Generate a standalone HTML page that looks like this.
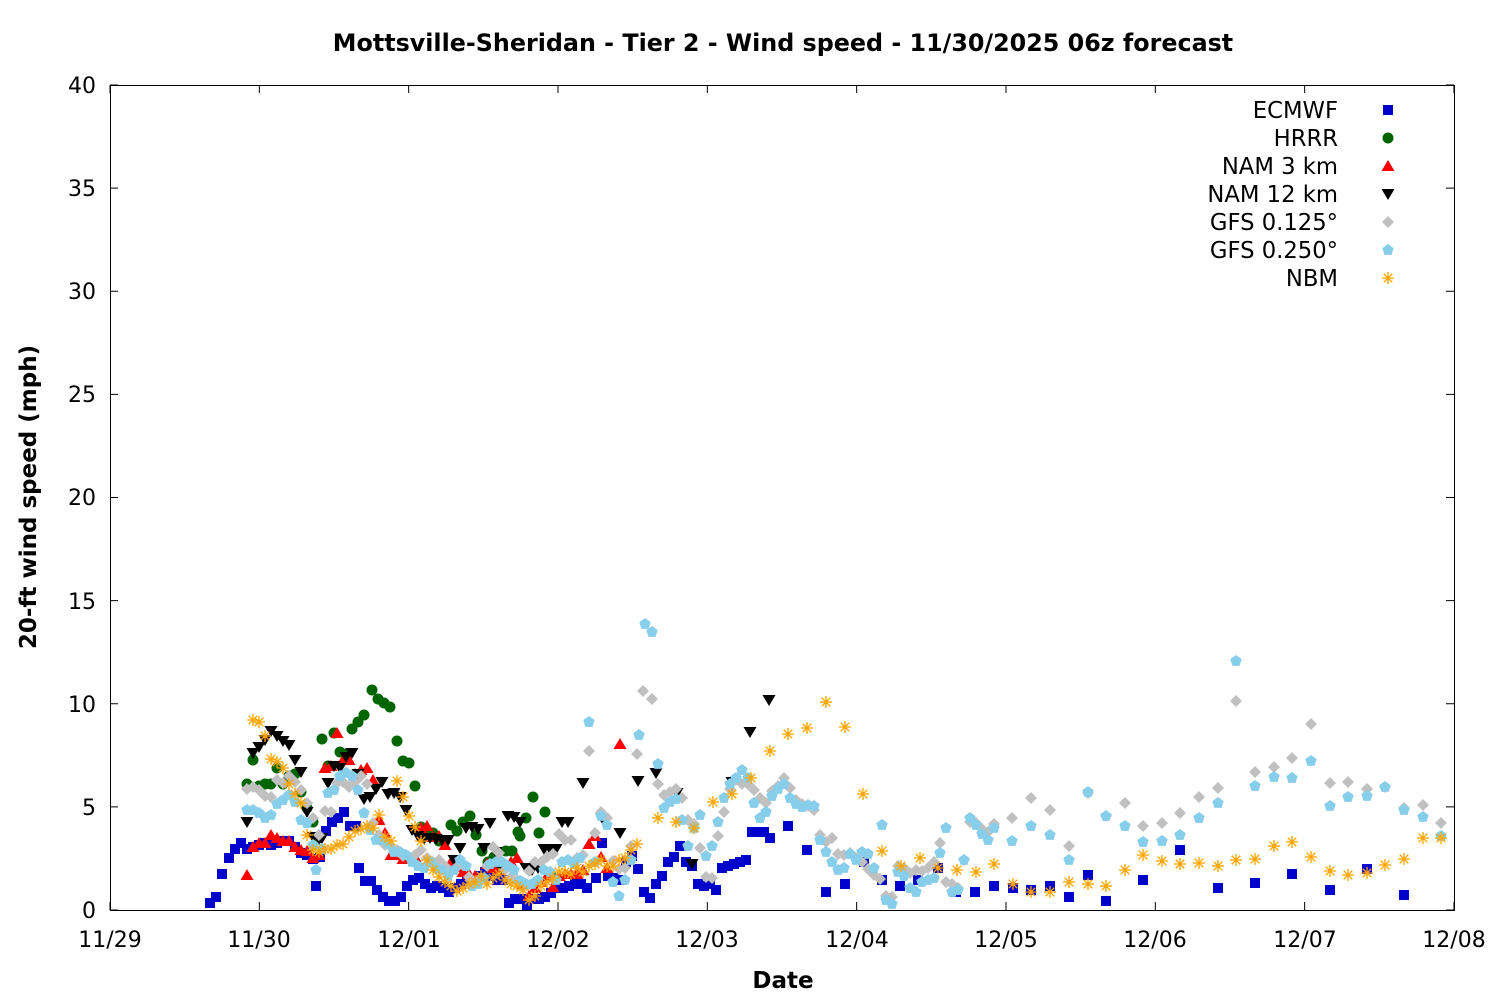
<!DOCTYPE html>
<html><head><meta charset="utf-8"><style>
body{margin:0;background:#fff;}
svg{display:block;font-family:"DejaVu Sans","Liberation Sans",sans-serif;}
</style></head><body>
<svg id="s" width="1500" height="1000" viewBox="0 0 1500 1000" xmlns="http://www.w3.org/2000/svg">
<rect width="1500" height="1000" fill="#fff"/>
<text x="783" y="51" text-anchor="middle" font-size="23.8" font-weight="bold">Mottsville-Sheridan - Tier 2 - Wind speed - 11/30/2025 06z forecast</text>
<rect x="110.5" y="85.5" width="1344" height="825" fill="none" stroke="#000" stroke-width="1"/>
<g id="ticks" stroke="#000" stroke-width="1"></g>
<g font-size="22" text-anchor="end">
<text x="96" y="918">0</text><text x="96" y="815">5</text><text x="96" y="712">10</text><text x="96" y="609">15</text><text x="96" y="505">20</text><text x="96" y="402">25</text><text x="96" y="299">30</text><text x="96" y="196">35</text><text x="96" y="93">40</text>
</g>
<g font-size="22" text-anchor="middle">
<text x="110" y="947">11/29</text><text x="259" y="947">11/30</text><text x="409" y="947">12/01</text><text x="558" y="947">12/02</text><text x="707" y="947">12/03</text><text x="857" y="947">12/04</text><text x="1006" y="947">12/05</text><text x="1155" y="947">12/06</text><text x="1305" y="947">12/07</text><text x="1454" y="947">12/08</text>
</g>
<text x="783" y="988" text-anchor="middle" font-size="23" font-weight="bold">Date</text>
<text transform="translate(36,497) rotate(-90)" text-anchor="middle" font-size="23" font-weight="bold">20-ft wind speed (mph)</text>
<g font-size="22.7" text-anchor="end">
<text x="1338" y="118">ECMWF</text><text x="1338" y="146">HRRR</text><text x="1338" y="174">NAM 3 km</text><text x="1338" y="202">NAM 12 km</text><text x="1338" y="230">GFS 0.125°</text><text x="1338" y="258">GFS 0.250°</text><text x="1338" y="286">NBM</text>
</g>
<g id="pts"></g>
</svg>
<script>
var NS="http://www.w3.org/2000/svg";
var t=document.getElementById('ticks'),g=document.getElementById('pts');
function el(n,a,p){var e=document.createElementNS(NS,n);for(var k in a)e.setAttribute(k,a[k]);(p||g).appendChild(e);return e;}
for(var i=0;i<=8;i++){var y=910-i*103.125;el('line',{x1:110,y1:y,x2:118,y2:y},t);el('line',{x1:1454,y1:y,x2:1446,y2:y},t);}
for(var i=0;i<=9;i++){var x=110+i*149.33;el('line',{x1:x,y1:910,x2:x,y2:902},t);el('line',{x1:x,y1:85,x2:x,y2:93},t);}
function mk(type,x,y){
 if(type==0)el('rect',{x:x-5,y:y-5,width:10,height:10,fill:'#0000cc'});
 else if(type==1)el('circle',{cx:x,cy:y,r:5.5,fill:'#006400'});
 else if(type==2)el('polygon',{points:(x)+','+(y-6)+' '+(x+6.5)+','+(y+5)+' '+(x-6.5)+','+(y+5),fill:'#ff0000'});
 else if(type==3)el('polygon',{points:(x)+','+(y+6)+' '+(x+6.5)+','+(y-5)+' '+(x-6.5)+','+(y-5),fill:'#000'});
 else if(type==4)el('polygon',{points:x+','+(y-6)+' '+(x+6)+','+y+' '+x+','+(y+6)+' '+(x-6)+','+y,fill:'#c0c0c0'});
 else if(type==5){var p=[];for(var k=0;k<5;k++){var a=-Math.PI/2+k*2*Math.PI/5;p.push((x+6*Math.cos(a))+','+(y+6*Math.sin(a)));}el('polygon',{points:p.join(' '),fill:'#87ceeb'});}
 else {var d='';for(var k=0;k<4;k++){var a=k*Math.PI/4;d+='M'+(x-6*Math.cos(a))+' '+(y-6*Math.sin(a))+'L'+(x+6*Math.cos(a))+' '+(y+6*Math.sin(a));}el('path',{d:d,stroke:'#ffa500','stroke-width':1.3,fill:'none'});}
}
var D=[
[210,903,216,897,222,874,229,858,235,849,241,843,247,849,253,847,259,845,265,843,271,845,277,843,283,841,289,841,295,847,301,853,307,855,313,859,316,886,320,857,326,831,332,822,338,818,344,812,350,826,356,826,359,868,365,881,371,881,377,890,383,897,389,901,395,901,401,897,407,886,413,880,419,878,425,884,431,888,437,886,443,888,449,892,455,888,461,884,467,880,473,880,479,876,485,872,491,876,497,880,503,880,509,903,515,899,521,899,527,905,533,899,539,899,545,897,551,893,557,888,563,888,569,886,575,884,581,884,587,888,596,878,602,843,608,876,614,878,620,880,626,862,632,856,638,869,644,892,650,898,656,884,662,876,668,862,674,857,680,846,686,862,692,866,698,884,704,886,710,884,716,890,722,868,728,866,734,864,740,862,746,860,752,832,758,832,764,832,770,838,788,826,807,850,826,892,845,884,864,862,882,880,900,886,918,880,938,868,956,892,975,892,994,886,1013,888,1031,890,1050,886,1069,897,1088,875,1106,901,1143,880,1180,850,1218,888,1255,883,1292,874,1330,890,1367,869,1404,895],
[247,784,253,760,259,786,265,784,271,784,277,768,283,784,289,776,295,774,301,792,307,808,313,822,319,838,322,739,328,766,334,733,340,752,346,754,352,729,358,722,364,715,372,690,378,699,384,703,390,707,397,741,403,761,409,763,415,786,421,827,427,833,433,833,439,841,445,841,451,825,457,831,463,822,470,816,476,835,482,851,488,862,494,857,500,864,506,851,512,851,518,832,520,836,526,818,533,797,539,833,545,812,551,876],
[247,875,253,847,259,843,265,843,271,835,277,838,283,841,289,841,295,847,301,850,307,851,313,858,319,855,325,768,331,766,337,733,343,760,349,760,355,774,361,770,367,768,373,780,379,820,385,833,391,855,397,855,403,859,409,859,415,857,421,828,427,826,433,837,439,836,445,845,451,862,457,867,463,872,469,874,475,876,481,878,487,864,493,868,499,870,505,866,511,862,517,858,523,884,529,896,535,888,541,882,547,876,553,887,559,876,565,874,571,874,577,874,583,870,589,844,595,836,601,857,607,868,620,744],
[247,822,253,753,259,747,265,740,271,731,277,736,283,741,289,745,295,760,301,772,307,812,313,837,319,839,322,838,328,783,334,766,340,768,346,757,352,753,358,774,364,799,370,797,376,789,382,782,388,794,394,793,400,797,406,810,412,830,418,836,424,839,430,838,436,839,442,840,448,840,454,860,460,848,466,828,472,827,478,829,484,848,490,823,496,852,502,869,508,816,514,817,520,822,526,868,532,870,538,868,544,849,550,849,556,849,562,822,568,822,583,783,602,818,620,833,638,781,656,773,677,793,692,864,732,782,750,732,769,700],
[247,789,253,787,259,790,265,796,271,797,277,780,283,783,289,776,295,782,301,790,307,803,313,818,319,835,325,811,331,812,337,783,343,782,349,787,355,782,361,776,367,784,373,823,379,835,385,845,391,847,397,850,403,856,409,857,415,855,421,850,427,858,433,862,439,860,445,866,451,872,457,867,463,865,469,877,475,883,481,878,487,866,493,847,499,853,505,870,511,877,517,880,523,882,529,871,535,862,541,862,547,857,553,854,559,834,565,840,571,840,577,858,583,855,589,751,595,833,601,812,607,818,613,861,619,869,625,868,631,846,637,754,643,691,652,699,658,784,664,795,670,792,676,789,682,798,688,820,694,824,700,848,706,877,712,878,718,836,724,812,730,789,736,780,742,784,748,784,754,790,760,798,766,803,772,791,778,786,784,778,790,788,796,800,802,804,808,806,814,810,820,835,826,842,832,838,838,854,844,855,850,853,856,858,862,862,868,869,874,875,880,879,886,896,892,897,898,866,904,868,910,873,916,870,922,871,928,868,934,862,940,843,946,882,952,884,958,888,964,860,970,822,976,823,982,829,988,832,994,824,1012,818,1031,798,1050,810,1069,846,1088,793,1106,816,1125,803,1143,826,1162,823,1180,813,1199,797,1218,788,1236,701,1255,772,1274,767,1292,758,1311,724,1330,783,1348,782,1367,789,1385,787,1404,808,1423,805,1441,823],
[247,810,253,810,259,813,265,818,271,815,277,804,283,800,289,795,295,802,301,820,307,823,313,845,316,870,322,849,328,793,334,790,340,776,346,773,352,776,358,790,364,813,370,830,376,840,382,840,388,844,394,852,400,852,406,855,412,862,418,866,424,868,430,862,436,868,442,870,448,876,454,870,460,860,466,866,472,886,478,884,484,878,490,864,496,862,502,862,508,866,514,870,520,881,526,884,532,884,538,880,544,870,550,872,556,880,562,862,568,860,574,864,580,858,589,722,595,862,601,816,607,825,613,882,619,896,625,880,631,860,639,735,645,624,652,632,658,764,664,808,670,802,676,799,682,820,688,846,694,828,700,815,706,856,712,846,718,822,724,798,730,784,736,778,742,770,748,778,754,803,760,818,766,812,772,796,778,789,784,784,790,798,796,804,802,807,808,805,814,806,820,840,826,852,832,862,838,870,844,868,850,854,856,860,862,852,868,854,874,868,882,825,886,900,892,904,898,872,904,876,910,888,916,892,922,882,928,880,934,878,940,853,946,828,952,892,958,890,964,860,970,818,976,825,982,834,988,840,994,828,1012,841,1031,826,1050,835,1069,860,1088,792,1106,816,1125,826,1143,842,1162,841,1180,835,1199,818,1218,803,1236,661,1255,786,1274,777,1292,778,1311,761,1330,806,1348,797,1367,796,1385,787,1404,810,1423,817,1441,836],
[253,720,259,722,265,736,271,759,277,762,283,768,289,784,295,794,301,803,307,835,313,850,319,852,325,849,331,849,337,845,343,844,349,837,355,831,361,829,367,826,373,828,379,815,385,837,391,841,397,781,403,797,409,816,415,827,421,841,427,860,433,870,439,877,445,882,451,886,457,891,463,888,469,884,475,882,481,876,487,884,493,878,499,874,505,880,511,884,517,886,523,890,529,900,535,896,541,886,547,882,553,878,559,872,565,872,571,874,577,868,583,872,589,866,595,864,601,860,607,866,613,866,619,860,625,858,631,850,637,844,658,818,676,822,694,828,713,802,732,794,751,778,770,751,788,734,807,728,826,702,845,727,863,794,882,851,901,866,920,858,938,868,957,870,976,872,994,864,1013,884,1031,892,1050,892,1069,882,1088,884,1106,886,1125,870,1143,855,1162,861,1180,864,1199,863,1218,866,1236,860,1255,859,1274,846,1292,842,1311,857,1330,871,1348,875,1367,873,1385,865,1404,859,1423,838,1441,838]
];
for(var s=0;s<D.length;s++){var a=D[s];for(var i=0;i<a.length;i+=2)mk(s,a[i],a[i+1]);mk(s,1388,110+28*s);}
</script>
</body></html>
